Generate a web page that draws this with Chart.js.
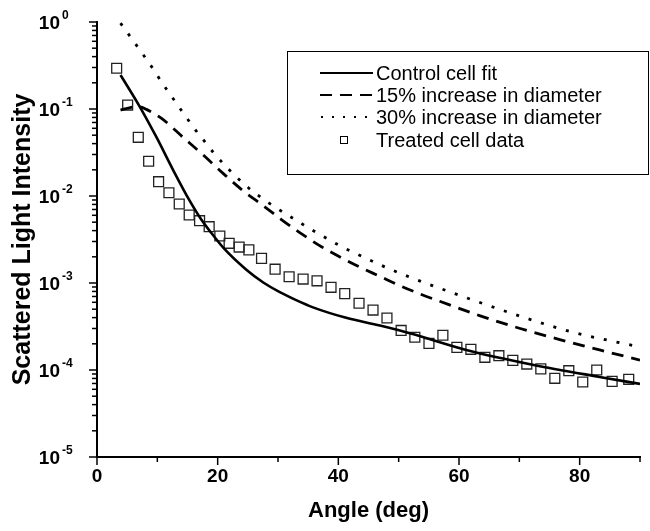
<!DOCTYPE html>
<html>
<head>
<meta charset="utf-8">
<script src="https://cdn.jsdelivr.net/npm/chart.js@4.4.0/dist/chart.umd.min.js"></script>
<style>
    html, body { margin: 0; padding: 0; background: #fff; }
    #wrap { width: 650px; height: 531px; }
</style>
</head>
<body>
<div id="wrap"><canvas id="grafico"></canvas></div>
<script>
// Dados
const fitAngle = [3.9, 7.1, 9.9, 12.6, 15.4, 17.0, 18.9, 21, 24.8, 27.5, 30.3, 33.1, 35.8, 41.3, 46.9, 52, 61.2, 72.2, 83.3, 90];
const fitIntensity = [0.246, 0.106, 0.0468, 0.0200, 0.00871, 0.00575, 0.0038, 0.00251, 0.00141, 0.00102, 0.000785, 0.000631, 0.000525, 0.000398, 0.000324, 0.000263, 0.00017, 0.000115, 0.0000832, 0.0000692];

const inc15Angle = [3.9, 5.5, 7.1, 8.2, 10.7, 14.3, 17.6, 20.9, 24.2, 27.5, 30.5, 33.6, 36.9, 40.2, 43.5, 46.9, 50.2, 53.5, 56.8, 63.4, 70, 76.7, 83.3, 90];
const inc15Intensity = [0.097, 0.104, 0.106, 0.099, 0.078, 0.047, 0.0296, 0.0182, 0.0115, 0.0078, 0.0054, 0.0038, 0.00269, 0.0020, 0.00153, 0.00119, 0.000933, 0.00075, 0.000617, 0.000422, 0.000302, 0.000224, 0.00017, 0.00013];

const inc30Angle = [3.9, 8.2, 9.6, 10.7, 12.1, 13.4, 14.85, 16.2, 17.8, 19.3, 21.5, 25, 28.7, 32.8, 36.4, 40.5, 44.4, 48.2, 52.1, 56, 63.7, 71.4, 79.1, 86.9, 90];
const inc30Intensity = [0.97, 0.372, 0.269, 0.204, 0.148, 0.110, 0.0794, 0.0589, 0.0427, 0.0316, 0.0214, 0.0126, 0.00813, 0.00537, 0.0038, 0.00263, 0.00195, 0.00148, 0.00115, 0.000912, 0.000589, 0.000389, 0.000269, 0.000204, 0.000184];

const treatedAngle = [3.26, 5.08, 6.84, 8.56, 10.21, 11.92, 13.63, 15.28, 17.0, 18.59, 20.36, 21.9, 23.56, 25.17, 27.27, 29.52, 31.84, 34.16, 36.47, 38.79, 41.06, 43.43, 45.75, 48.06, 50.41, 52.68, 55.02, 57.33, 59.65, 61.97, 64.29, 66.61, 68.92, 71.24, 73.56, 75.88, 78.2, 80.51, 82.83, 85.38, 88.13];
const treatedIntensity = [0.294, 0.111, 0.0473, 0.0251, 0.0146, 0.0109, 0.00809, 0.00605, 0.0052, 0.00444, 0.00347, 0.00286, 0.00259, 0.0024, 0.00192, 0.00144, 0.00118, 0.00111, 0.00106, 0.000892, 0.000754, 0.000585, 0.000489, 0.000396, 0.000285, 0.000238, 0.000202, 0.000251, 0.000182, 0.000173, 0.00014, 0.000146, 0.000129, 0.000117, 0.000103, 0.0000803, 0.0000982, 0.0000728, 0.0001, 0.0000741, 0.0000782];

const xTicks = [0, 20, 40, 60, 80];
const yDecades = [0, -1, -2, -3, -4, -5];

const legendLabels = ['Control cell fit', '15% increase in diameter', '30% increase in diameter', 'Treated cell data'];

const fonte = '"Liberation Sans", Arial, sans-serif';

function pares(xs, ys) {
    return xs.map((x, i) => ({ x: x, y: ys[i] }));
}

// Plugin para desenhar ticks, rótulos com expoente e legenda
const eixosPlugin = {
    id: 'eixos',
    afterDraw(chart) {
        const ctx = chart.ctx;
        const xs = chart.scales.x;
        const ys = chart.scales.y;
        const area = chart.chartArea;
        ctx.save();
        ctx.strokeStyle = '#000';
        ctx.fillStyle = '#000';
        ctx.lineWidth = 1.5;

        // ticks do eixo x
        for (let v = 0; v <= 90; v += 10) {
            const px = xs.getPixelForValue(v);
            const len = v % 20 === 0 ? 8 : 5;
            ctx.beginPath();
            ctx.moveTo(px, area.bottom);
            ctx.lineTo(px, area.bottom + len);
            ctx.stroke();
        }

        // ticks do eixo y (decadas e menores)
        yDecades.forEach(e => {
            const base = Math.pow(10, e);
            const py = ys.getPixelForValue(base);
            ctx.beginPath();
            ctx.moveTo(area.left - 8, py);
            ctx.lineTo(area.left, py);
            ctx.stroke();
            if (e < 0) {
                for (let m = 2; m <= 9; m++) {
                    const pm = ys.getPixelForValue(base * m);
                    ctx.beginPath();
                    ctx.moveTo(area.left - 5, pm);
                    ctx.lineTo(area.left, pm);
                    ctx.stroke();
                }
            }
            // rótulo 10^e
            ctx.font = 'bold 19px ' + fonte;
            ctx.textAlign = 'right';
            ctx.textBaseline = 'middle';
            ctx.fillText('10', 60, py + 2);
            ctx.font = 'bold 12px ' + fonte;
            ctx.textAlign = 'left';
            ctx.fillText(String(e), 62, py - 6);
        });

        // legenda
        const bx = 287, by = 51, bw = 361, bh = 123;
        ctx.lineWidth = 1;
        ctx.strokeStyle = '#000';
        ctx.strokeRect(bx + 0.5, by + 0.5, bw, bh);
        const rows = [73, 95, 117, 140];
        ctx.font = '20px ' + fonte;
        ctx.textAlign = 'left';
        ctx.textBaseline = 'middle';
        chart.data.datasets.forEach((ds, i) => {
            const ry = rows[i];
            if (i < 3) {
                ctx.beginPath();
                ctx.lineWidth = i === 2 ? 1.8 : 2;
                ctx.setLineDash(i === 0 ? [] : (i === 1 ? [12, 8] : [2, 9]));
                ctx.moveTo(i === 2 ? 321 : 320, ry);
                ctx.lineTo(373, ry);
                ctx.stroke();
                ctx.setLineDash([]);
            } else {
                ctx.lineWidth = 1;
                ctx.strokeRect(340.5, ry - 3.5, 7, 7);
            }
            ctx.fillText(legendLabels[i], 376, ry + 1);
        });
        ctx.restore();
    }
};

const ctx = document.getElementById('grafico').getContext('2d');
new Chart(ctx, {
    type: 'line',
    data: {
        datasets: [
            {
                label: legendLabels[0],
                data: pares(fitAngle, fitIntensity),
                borderColor: '#000',
                borderWidth: 2.6,
                pointRadius: 0,
                cubicInterpolationMode: 'monotone',
                fill: false
            },
            {
                label: legendLabels[1],
                data: pares(inc15Angle, inc15Intensity),
                borderColor: '#000',
                borderWidth: 2.8,
                borderDash: [12, 8],
                pointRadius: 0,
                cubicInterpolationMode: 'monotone',
                fill: false
            },
            {
                label: legendLabels[2],
                data: pares(inc30Angle, inc30Intensity),
                borderColor: '#000',
                borderWidth: 2.8,
                borderDash: [3, 10],
                pointRadius: 0,
                cubicInterpolationMode: 'monotone',
                fill: false
            },
            {
                label: legendLabels[3],
                data: pares(treatedAngle, treatedIntensity),
                showLine: false,
                pointStyle: 'rect',
                pointRadius: 7,
                pointBorderWidth: 1.3,
                pointBorderColor: '#222',
                pointBackgroundColor: 'rgba(0,0,0,0)'
            }
        ]
    },
    options: {
        responsive: true,
        maintainAspectRatio: false,
        animation: false,
        devicePixelRatio: 1,
        layout: { padding: { left: 0, right: 10, top: 22, bottom: 0 } },
        plugins: {
            legend: { display: false },
            tooltip: { enabled: false }
        },
        scales: {
            x: {
                type: 'linear',
                min: 0,
                max: 90,
                afterFit: s => { s.height = 74; },
                grid: { display: false, drawTicks: false },
                border: { display: true, color: '#000', width: 2 },
                ticks: {
                    stepSize: 10,
                    autoSkip: false,
                    maxRotation: 0,
                    padding: 8,
                    color: '#000',
                    font: { family: fonte, size: 19, weight: 'bold' },
                    callback: v => (xTicks.includes(v) ? String(v) : '')
                },
                title: {
                    display: true,
                    text: 'Angle (deg)',
                    color: '#000',
                    font: { family: fonte, size: 22, weight: 'bold' },
                    padding: { top: 0, bottom: 7 }
                }
            },
            y: {
                type: 'logarithmic',
                min: 1e-5,
                max: 1,
                afterFit: s => { s.width = 97; },
                grid: { display: false, drawTicks: false },
                border: { display: true, color: '#000', width: 2 },
                ticks: { display: false },
                title: {
                    display: true,
                    text: 'Scattered Light Intensity',
                    color: '#000',
                    font: { family: fonte, size: 25, weight: 'bold' },
                    padding: { top: 8, bottom: 0 }
                }
            }
        }
    },
    plugins: [eixosPlugin]
});
</script>
</body>
</html>
